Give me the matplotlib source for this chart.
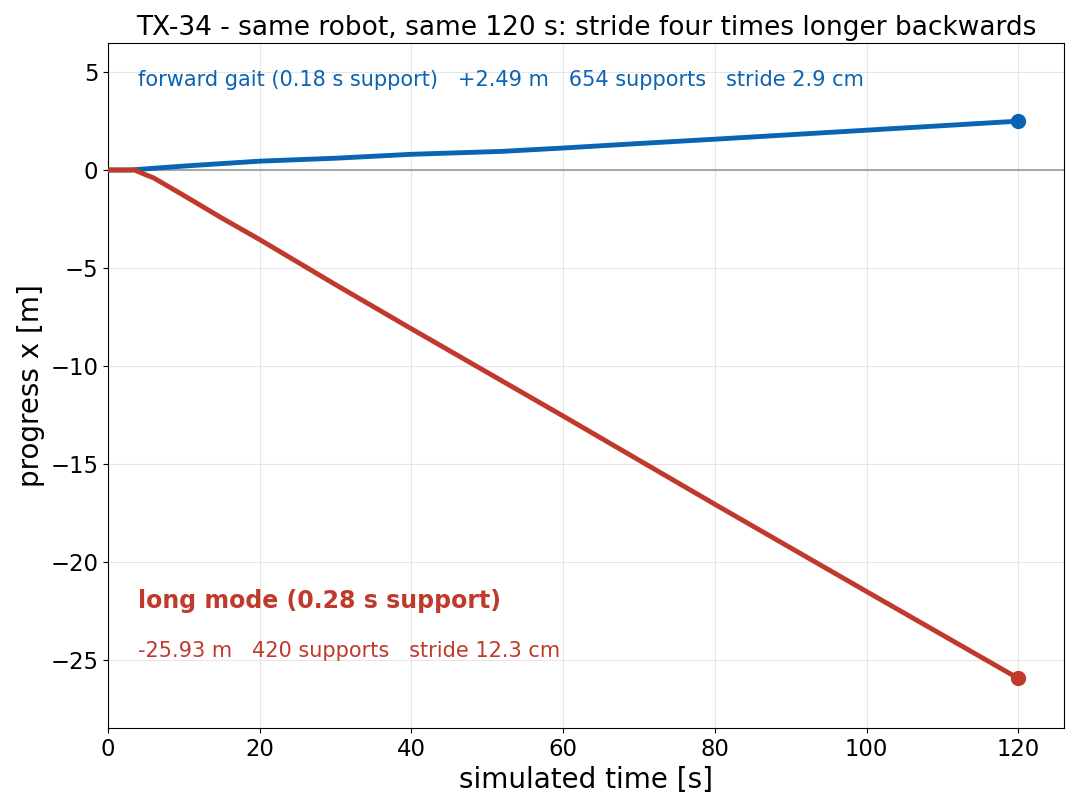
import matplotlib
matplotlib.use("Agg")
import matplotlib.pyplot as plt

# data
t_fwd = [0, 3, 10, 20, 30, 40, 52, 60, 70, 80, 90, 100, 110, 120]
x_fwd = [0, 0, 0.2, 0.45, 0.6, 0.8, 0.95, 1.12, 1.35, 1.57, 1.8, 2.03, 2.26, 2.49]
t_long = [0, 3.5, 5, 6, 8, 10, 15, 20, 30, 40, 60, 80, 100, 120]
x_long = [0, 0, -0.25, -0.4, -0.85, -1.3, -2.45, -3.55, -5.85, -8.1, -12.55, -17.05, -21.5, -25.93]

BLUE = "#0b63b3"
RED = "#c0392b"

fig, ax = plt.subplots(figsize=(10.8, 8.1), dpi=100)
fig.subplots_adjust(left=0.1, right=0.985, top=0.947, bottom=0.101)

ax.axhline(0, color="#999999", lw=1.2, zorder=1)
ax.plot(t_fwd, x_fwd, color=BLUE, lw=3.5, zorder=3)
ax.plot(t_long, x_long, color=RED, lw=3.5, zorder=3)
ax.plot([t_fwd[-1]], [x_fwd[-1]], "o", color=BLUE, ms=10, zorder=4)
ax.plot([t_long[-1]], [x_long[-1]], "o", color=RED, ms=10, zorder=4)

ax.set_xlim(0, 126)
ax.set_ylim(-28.47, 6.48)
ax.grid(True, color="#e6e6e6", lw=0.8)
ax.set_axisbelow(True)
ax.tick_params(labelsize=16.4)
ax.set_xlabel("simulated time [s]", fontsize=20)
ax.set_ylabel("progress x [m]", fontsize=20)
ax.set_title("TX-34 - same robot, same 120 s: stride four times longer backwards", fontsize=19)

ax.text(4, 4.6, "forward gait (0.18 s support)   +2.49 m   654 supports   stride 2.9 cm",
        color=BLUE, fontsize=15, va="center")
ax.text(4, -21.98, "long mode (0.28 s support)", color=RED, fontsize=17,
        fontweight="bold", va="center")
ax.text(4, -24.55, "-25.93 m   420 supports   stride 12.3 cm", color=RED,
        fontsize=15, va="center")

fig.savefig("out.png", dpi=100)
